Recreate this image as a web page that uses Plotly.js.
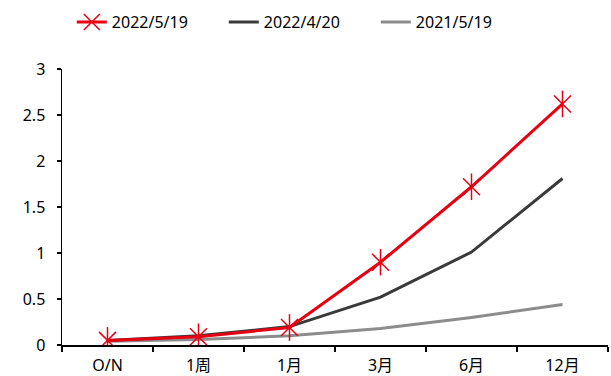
<!DOCTYPE html>
<html>
<head>
<meta charset="utf-8">
<script src="https://cdn.plot.ly/plotly-3.0.1.min.js"></script>
<style>html,body{margin:0;padding:0;background:#fff;}#chart{width:611px;height:376px;}</style>
</head>
<body>
<div id="chart"></div>
<script>
var categories = ["O/N", "1周", "1月", "3月", "6月", "12月"];
var s2022_05_19 = [0.05, 0.09, 0.19, 0.90, 1.72, 2.62];
var s2022_04_20 = [0.05, 0.10, 0.20, 0.52, 1.01, 1.81];
var s2021_05_19 = [0.04, 0.06, 0.10, 0.18, 0.30, 0.44];
var yTicks = [0, 0.5, 1, 1.5, 2, 2.5, 3];
var yTickLabels = ["0", "0.5", "1", "1.5", "2", "2.5", "3"];

var fontFam = "'Noto Sans', 'Noto Sans CJK SC', sans-serif";
var red = "#e60012";
var traces = [
  {x: categories, y: s2021_05_19, name: "2021/5/19", type: "scatter", mode: "lines",
   line: {color: "#8c8c8c", width: 3}},
  {x: categories, y: s2022_04_20, name: "2022/4/20", type: "scatter", mode: "lines",
   line: {color: "#3a3a3a", width: 3}},
  {x: categories, y: s2022_05_19, name: "2022/5/19", type: "scatter", mode: "lines+markers",
   line: {color: red, width: 3},
   marker: {symbol: "x-thin-open", size: 17, color: red, line: {color: red, width: 1.5}}},
  {x: categories, y: s2022_05_19, name: "2022/5/19", type: "scatter", mode: "markers", showlegend: false,
   marker: {symbol: "line-ns-open", size: 19, color: red, line: {color: red, width: 1.5}}}
];
var layout = {
  width: 611, height: 376,
  margin: {l: 62, r: 3, t: 69, b: 31},
  paper_bgcolor: "#fff", plot_bgcolor: "#fff",
  font: {family: fontFam, size: 16, color: "#000"},
  showlegend: true,
  legend: {orientation: "h", x: 0.018, xanchor: "left", y: 1.17, yanchor: "middle",
           entrywidth: 107, entrywidthmode: "pixels",
           traceorder: "reversed", font: {size: 16, family: fontFam}},
  xaxis: {type: "category", range: [-0.5, 5.5], showline: true, linecolor: "#000", linewidth: 1.5,
          ticks: "outside", tickson: "boundaries", ticklen: 5, tickcolor: "#000", tickwidth: 1.5,
          ticklabelstandoff: 5,
          showgrid: false, zeroline: false, fixedrange: true, tickfont: {size: 16}},
  yaxis: {range: [0, 3], tickvals: yTicks, ticktext: yTickLabels, showline: true, linecolor: "#000",
          linewidth: 1.5, ticks: "outside", ticklen: 4, tickcolor: "#000", tickwidth: 1.5,
          ticklabelstandoff: 8,
          showgrid: false, zeroline: false, fixedrange: true, tickfont: {size: 16}}
};
Plotly.newPlot("chart", traces, layout, {displayModeBar: false, staticPlot: true});
</script>
</body>
</html>
